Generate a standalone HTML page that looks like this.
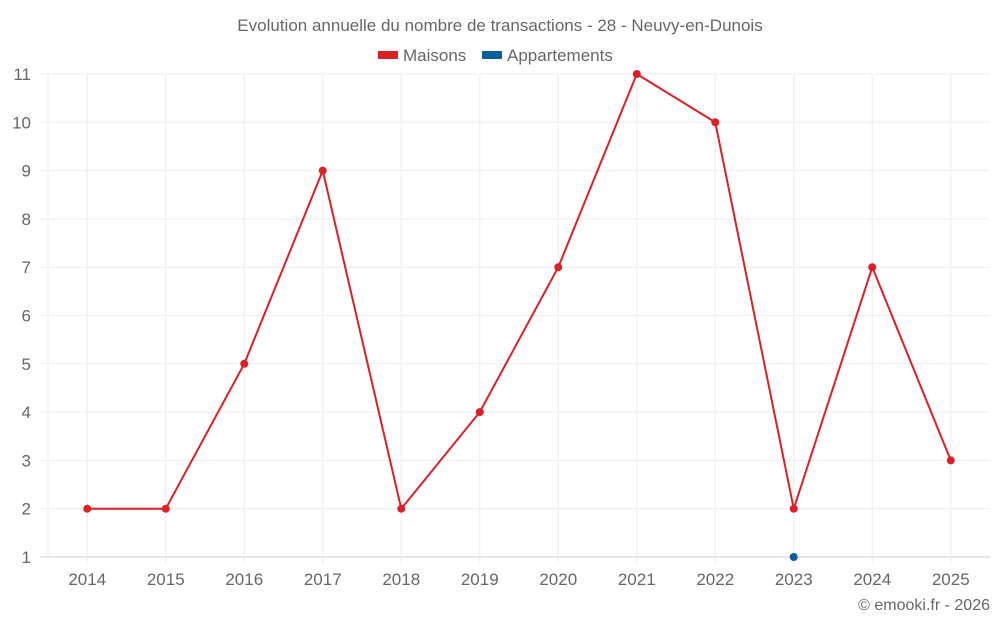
<!DOCTYPE html>
<html><head><meta charset="utf-8"><style>
body{margin:0;background:#fff;font-family:"Liberation Sans",sans-serif}
</style></head><body>
<svg id="c" width="1000" height="625" xmlns="http://www.w3.org/2000/svg">
<text x="500" y="31" text-anchor="middle" font-size="17" fill="#666">Evolution annuelle du nombre de transactions - 28 - Neuvy-en-Dunois</text>
<g><rect x="378" y="51" width="20" height="8" fill="#dd2025"/><text x="403" y="61" font-size="17" fill="#666">Maisons</text></g>
<g><rect x="482" y="51" width="20" height="8" fill="#0a5f9a"/><text x="507" y="61" font-size="17" fill="#666">Appartements</text></g>
<g id="grid"></g><g id="marks"></g>
<text x="990" y="610" text-anchor="end" font-size="16" fill="#666">© emooki.fr - 2026</text>
</svg>
<script>
const years=[2014,2015,2016,2017,2018,2019,2020,2021,2022,2023,2024,2025];
const maisons=[2,2,5,9,2,4,7,11,10,2,7,3];
const appartements=[null,null,null,null,null,null,null,null,null,1,null,null];
const yTicks=[1,2,3,4,5,6,7,8,9,10,11];
const NS="http://www.w3.org/2000/svg";
const L=48,R=990,T=74,B=557,yMin=1,yMax=11;
const band=(R-L)/years.length;
const x=i=>L+band*(i+0.5);
const y=v=>B-(v-yMin)/(yMax-yMin)*(B-T);
const g=document.getElementById('grid'),m=document.getElementById('marks');
function el(t,a,p){const e=document.createElementNS(NS,t);for(const k in a)e.setAttribute(k,a[k]);p.appendChild(e);return e;}
yTicks.forEach(v=>{
 const ln=el('line',{x1:40,x2:R,y1:y(v),y2:y(v),stroke:v===yMin?'#ccc':'#ebebeb','stroke-width':1},g);
 
 
 const t=el('text',{x:31,y:y(v)+6,'text-anchor':'end','font-size':17,fill:'#666'},g);
 t.textContent=v;
 
 
});
el('line',{x1:L,x2:L,y1:T,y2:B,stroke:'#ebebeb'},g);
years.forEach((yr,i)=>{
 const ln=el('line',{x1:x(i),x2:x(i),y1:T,y2:B+6,stroke:'#ebebeb'},g);
 
 
 const t=el('text',{x:x(i),y:585,'text-anchor':'middle','font-size':17,fill:'#666'},g);
 t.textContent=yr;
 
 
});
const pts=maisons.map((v,i)=>v==null?null:[x(i),y(v)]).filter(Boolean);
const pl=el('polyline',{points:pts.map(p=>p.join(',')).join(' '),fill:'none',stroke:'#dd2025','stroke-width':2},m);


maisons.forEach((v,i)=>{if(v==null)return;
 const c=el('circle',{cx:x(i),cy:y(v),r:4,fill:'#dd2025'},m);
 
 
});
appartements.forEach((v,i)=>{if(v==null)return;
 const c=el('circle',{cx:x(i),cy:y(v),r:4,fill:'#0a5f9a'},m);
 
 
});
</script>
</body></html>
